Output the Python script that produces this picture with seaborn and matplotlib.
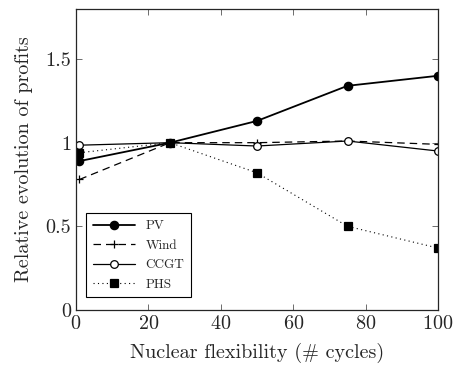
import pandas as pd
import matplotlib
matplotlib.use('Agg')
import matplotlib.pyplot as plt
import seaborn as sns

cycles = [1, 26, 50, 75, 100]
pv = [0.89, 1.0, 1.13, 1.34, 1.40]
wind = [0.78, 1.0, 1.0, 1.01, 0.99]
ccgt = [0.985, 1.0, 0.98, 1.01, 0.95]
phs = [0.94, 1.0, 0.82, 0.50, 0.37]

sns.set_style('ticks')
plt.rcParams['font.family'] = ['cmr10', 'DejaVu Serif']
plt.rcParams['axes.formatter.use_mathtext'] = True
plt.rcParams['mathtext.fontset'] = 'cm'

fig = plt.figure(figsize=(4.54, 3.69), dpi=100)
ax = fig.add_axes([0.167, 0.160, 0.798, 0.816])

styles = [
    ('PV', pv, '-', 'o', 'black', 6, 1.3),
    ('Wind', wind, (0, (6, 4)), '+', 'black', 6, 0.9),
    ('CCGT', ccgt, '-', 'o', 'white', 5.5, 0.9),
    ('PHS', phs, (0, (1, 3)), 's', 'black', 5.2, 0.8),
]
for name, vals, ls, mk, fc, ms, lw in styles:
    df = pd.DataFrame({'x': cycles, 'y': vals})
    sns.lineplot(data=df, x='x', y='y', ax=ax, color='black', linestyle=ls,
                 marker=mk, markerfacecolor=fc, markeredgecolor='black',
                 markersize=ms, linewidth=lw, markeredgewidth=0.9, label=name)

ax.set_xlim(0, 100)
ax.set_ylim(0, 1.8)
ax.set_xticks([0, 20, 40, 60, 80, 100])
ax.set_yticks([0, 0.5, 1, 1.5])
ax.set_yticklabels(['0', '0.5', '1', '1.5'])
ax.tick_params(direction='in', top=True, right=True, labelsize=14.5, length=4,
               width=0.6, color='#555555')
for s in ax.spines.values():
    s.set_linewidth(0.9)
ax.set_xlabel('Nuclear flexibility (# cycles)', fontsize=14.5, labelpad=7)
ax.set_ylabel('Relative evolution of profits', fontsize=14.5, labelpad=9)

leg = ax.legend(loc='lower left', fontsize=9.5, fancybox=False, framealpha=1,
                edgecolor='black', borderpad=0.5, handlelength=3.2, labelspacing=0.55,
                bbox_to_anchor=(0.01, 0.02))
leg.get_frame().set_linewidth(0.8)

fig.savefig('out.png', dpi=100)
